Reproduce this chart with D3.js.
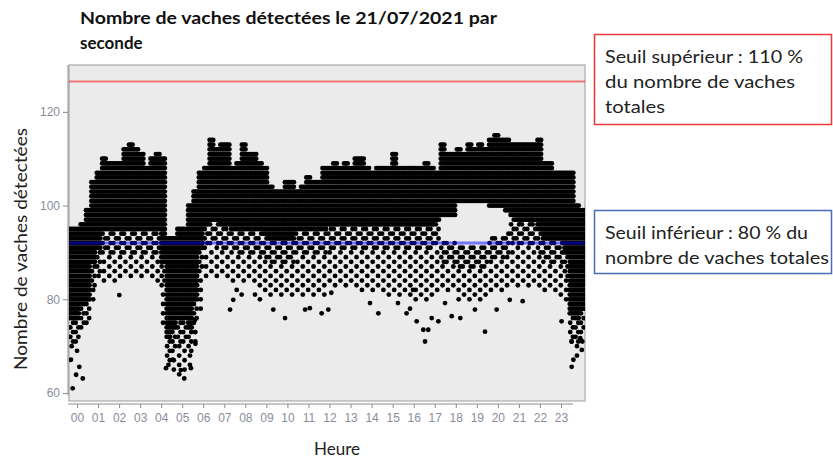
<!DOCTYPE html>
<html>
<head>
<meta charset="utf-8">
<script src="https://cdn.jsdelivr.net/npm/d3@7/dist/d3.min.js"></script>
<style>
  body { margin: 0; background: #fff; }
  svg { display: block; }
</style>
</head>
<body>
<svg id="graf" width="833" height="459"></svg>
<script>
// tranches de 15 min (0.25 h): enveloppes du nuage de points
let pas = 0.25
let haut = [95.5,95.5,97,100,106,108,110.5,109.5,109.5,109.5,112.5,113.5,112.8,111.5,109.2,111,
  111.7,111,94,93.5,95.5,95.5,101,104,108,109,114.9,113,113.5,113.5,109.2,110,
  113.5,112,111.4,109.5,108.5,104.6,104,103.5,106,106,104.2,104.5,106.7,105.6,106,108.5,
  109,109.6,109,109.6,108.8,111,111,109,107.8,109.2,109.2,109,111.7,109.2,108.8,109,
  108.5,109,109.6,108.5,108,113.5,112,112,112.4,112,113.5,113,113.5,113,114.5,115.6,
  115,114.5,113.5,113.5,114,113.5,114,114.5,110.3,110,107.8,107.8,107.5,107.8,100.6,100]
let basDense = [76,76,79,80,88,91,95,95,95,95,95,94.5,94.5,94.5,95,95,
  95,88,72,74,76,76,74,80,91,96,97,97,96,96,95,95,
  95,95,95,95,94,93,93,93,93,93,94.5,94.5,94.5,94.5,94.5,95,
  96,96,96,96,96,96,96,96,96,96,96,96,96,96,96,96,
  96,96,96,96,97,98,98,98,101,101,101,101,101,101,100,100,
  100,99,98,97,97,97,97,95,93,93,93,93,90,77,76,78]
let hautEpars = [76,76,79,80,88,91,95,95,95,95,95,94.5,94.5,94.5,95,95,
  95,88,72,74,76,76,74,80,91,96,97,97,96,96,95,95,
  95,95,95,95,94,93,93,93,93,93,94.5,94.5,94.5,94.5,94.5,95,
  96,96,96,96,96,96,96,96,96,96,96,96,96,96,96,96,
  96,96,96,96,97,93,93,93,92,92,92,92,92,92,94,94,
  94,95,98,97,97,97,97,95,93,93,93,93,90,77,76,78]
let basEpars = [69,69,73,74,80,83.5,84,84,84,83.5,84.5,84.5,84.5,84,84.5,84,
  83.5,74,66,64,63,64,66,70,78,84,85,85,85,84,83,84,
  84,84,84,83,82,81,80.5,80.5,81,81,80.5,80.5,80.5,81,81,81,
  83,83,83,83,82.5,82.5,82,82,81.5,81.5,81.5,81,81,80.5,80.5,80,
  80,80,80,81,81,82,82,82,80,80,80,80,80,80,81,82,
  82,82,83,83,83,83,83,83,82,82,82,81,80,70,68,70]
// points isolés [heure, nombre]
let isoles = [[0.09,67.1],[0.48,65.6],[0.33,63.9],[0.64,63.1],[0.17,61],[2.34,80.9],
  [4.51,65.3],[5.36,63.1],[5.2,64.9],[4.82,67.1],[5.67,65.3],[5.86,75.6],[5.86,73],[5.88,70.5],
  [7.49,77.8],[7.64,79.9],[8.03,81],[7.8,82],[8.65,81],[8.88,80],[9.5,77.8],[10.05,76],
  [10.98,77.8],[11.2,78.1],[11.75,77],[12.06,77.8],[12.2,81.4],[14.0,79.2],[14.39,77],
  [15.3,79.2],[15.7,77],[15.86,78],[16.17,75.3],[16.48,73.5],[16.56,71],[16.71,73.5],
  [16.87,76],[17.18,75.3],[17.8,76.4],[17.49,79.2],[16.0,82],[18.2,76],[18.88,77.8],
  [19.35,73.1],[19.89,77.8],[20.5,79.9],[21.1,79.6],[22.91,75.3],[23.38,71],[23.46,67.1],
  [23.38,65.6],[23.85,69.2],[23.78,71.7]]
let heuresLabels = ['00','01','02','03','04','05','06','07','08','09','10','11',
  '12','13','14','15','16','17','18','19','20','21','22','23']
let yTicks = [60, 80, 100, 120]
let seuilSup = 126.5
let seuilInf = 92

function graficar() {
  let svg = d3.select('#graf')
  let x = d3.scaleLinear().domain([0, 24]).range([69, 585])
  let y = d3.scaleLinear().domain([58.3, 130]).range([401, 65])
  let xAxe = d3.scalePoint().domain(heuresLabels).range([77, 561])

  // titre
  let titre = svg.append('g')
    .style('font-family', 'Lato, "Liberation Sans", sans-serif')
    .style('font-weight', 'bold')
    .style('font-size', '17px')
    .attr('fill', '#111')
  titre.append('text').attr('x', 80).attr('y', 24)
    .attr('textLength', 417).attr('lengthAdjust', 'spacingAndGlyphs')
    .text('Nombre de vaches détectées le 21/07/2021 par')
  titre.append('text').attr('x', 80).attr('y', 49).text('seconde')

  // panneau
  svg.append('rect')
    .attr('x', 69).attr('y', 65).attr('width', 516).attr('height', 336)
    .attr('fill', '#ebebeb').attr('stroke', '#a9a9a9').attr('stroke-width', 1.2)

  svg.append('clipPath').attr('id', 'clip')
    .append('rect').attr('x', 69).attr('y', 65).attr('width', 516).attr('height', 336)

  let pts = []
  haut.forEach((h, i) => {
    let t0 = i * pas
    // partie dense
    for (let k = 0; k < 3; k++) {
      let t = t0 + pas * (k + 0.5) / 3
      d3.range(Math.ceil(basDense[i]), Math.floor(h - 0.4) + 1).forEach(v => pts.push([t, v]))
    }
    // partie éparse : plus serrée près du haut, plus lâche vers le bas
    d3.range(Math.ceil(basEpars[i]), Math.ceil(hautEpars[i])).forEach(v => {
      let prof = hautEpars[i] - v
      if (prof <= 5) {
        for (let k = 0; k < 2; k++) {
          if ((v + i + k) % 2 === 0) pts.push([t0 + pas * (k + 0.5) / 2, v])
        }
      } else if ((v + i) % 2 === 0) {
        pts.push([t0 + pas / 2, v])
      }
    })
  })
  isoles.forEach(p => pts.push(p))

  let nuage = svg.append('g').attr('clip-path', 'url(#clip)')
  nuage.selectAll('circle')
    .data(pts)
    .enter().append('circle')
    .attr('cx', d => x(d[0]))
    .attr('cy', d => y(d[1]))
    .attr('r', 2.4)
    .attr('fill', '#000')

  // seuils
  nuage.append('line')
    .attr('x1', 69).attr('x2', 585)
    .attr('y1', y(seuilSup)).attr('y2', y(seuilSup))
    .attr('stroke', '#ff0000').attr('stroke-opacity', 0.5).attr('stroke-width', 2)
  nuage.append('line')
    .attr('x1', 69).attr('x2', 585)
    .attr('y1', y(seuilInf)).attr('y2', y(seuilInf))
    .attr('stroke', '#0000ff').attr('stroke-opacity', 0.5).attr('stroke-width', 3)

  // axe y
  let gy = svg.append('g').attr('transform', 'translate(68,0)')
    .call(d3.axisLeft(y).tickValues(yTicks).tickSize(5).tickPadding(3))
  gy.select('.domain').remove()
  gy.append('line').attr('x1', 0).attr('x2', 0).attr('y1', 65).attr('y2', y(59.5))
    .attr('stroke', '#8c8c8c')
  gy.selectAll('.tick line').attr('stroke', '#8c8c8c')
  gy.selectAll('.tick text')
    .attr('fill', '#8a8c9c')
    .style('font-family', '"Liberation Sans", Arial, sans-serif')
    .style('font-size', '12px')

  // axe x
  let gx = svg.append('g').attr('transform', 'translate(0,404)')
    .call(d3.axisBottom(xAxe).tickSize(4).tickPadding(5))
  gx.select('.domain').remove()
  gx.append('line').attr('x1', 68).attr('x2', 573).attr('y1', 0).attr('y2', 0)
    .attr('stroke', '#8c8c8c')
  gx.selectAll('.tick line').attr('stroke', '#8c8c8c')
  gx.selectAll('.tick text')
    .attr('fill', '#8a8c9c')
    .style('font-family', '"Liberation Sans", Arial, sans-serif')
    .style('font-size', '12px')

  // titres des axes
  svg.append('text')
    .attr('transform', 'translate(27,249) rotate(-90)')
    .attr('text-anchor', 'middle')
    .style('font-family', 'Lato, "Liberation Sans", sans-serif')
    .style('font-size', '17px')
    .attr('fill', '#222')
    .attr('textLength', 242).attr('lengthAdjust', 'spacingAndGlyphs')
    .text('Nombre de vaches détectées')
  svg.append('text')
    .attr('x', 337).attr('y', 455)
    .attr('text-anchor', 'middle')
    .style('font-family', 'Lato, "Liberation Sans", sans-serif')
    .style('font-size', '17px')
    .attr('fill', '#222')
    .text('Heure')

  // encadrés
  function encadre(y0, h, couleur, lignes, largeurs) {
    svg.append('rect')
      .attr('x', 594.5).attr('y', y0).attr('width', 237).attr('height', h)
      .attr('fill', '#fff').attr('stroke', couleur).attr('stroke-width', 1.5)
    lignes.forEach((l, i) => {
      svg.append('text')
        .attr('x', 605).attr('y', y0 + 28 + i * 25)
        .style('font-family', 'Lato, "Liberation Sans", sans-serif')
        .style('font-size', '18px')
        .attr('fill', '#222')
        .attr('textLength', largeurs[i]).attr('lengthAdjust', 'spacingAndGlyphs')
        .text(l)
    })
  }
  encadre(34.5, 90, '#e8393b', ['Seuil supérieur : 110 %', 'du nombre de vaches', 'totales'], [198, 190, 60])
  encadre(210.5, 63, '#4a6db3', ['Seuil inférieur : 80 % du', 'nombre de vaches totales'], [203, 224])
}

graficar()
</script>
</body>
</html>
